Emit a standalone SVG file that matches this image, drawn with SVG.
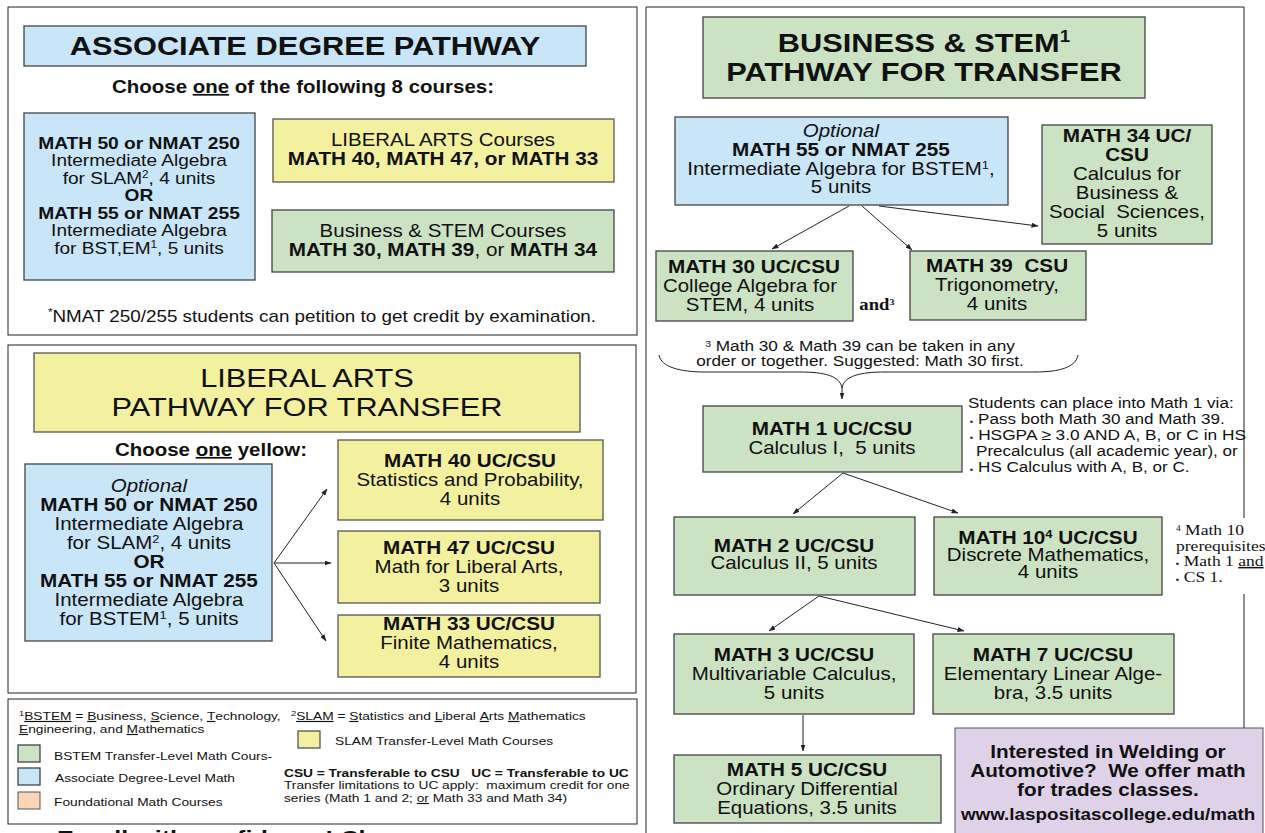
<svg xmlns="http://www.w3.org/2000/svg" width="1265" height="833" viewBox="0 0 1265 833">
<defs><marker id="a" markerWidth="7" markerHeight="5" refX="6.5" refY="2.5" orient="auto" markerUnits="userSpaceOnUse"><path d="M0 0L7 2.5L0 5Z" fill="#222"/></marker></defs>
<style>
text{font-family:"Liberation Sans",Arial,sans-serif;fill:#111;text-anchor:middle;transform-box:fill-box;transform-origin:50% 50%;transform:scaleX(1.17)}
.f{fill:#fff;stroke:#222;stroke-width:1}
.b{stroke:#444;stroke-width:1.3;fill:#c9e5f8}
.g{stroke:#444;stroke-width:1.3;fill:#cbe2c3}
.y{stroke:#555;stroke-width:1.3;fill:#f3f09f}
.o{stroke:#555;stroke-width:1;fill:#fbd5b5}
.p{stroke:#555;stroke-width:1;fill:#dfd2e8}
.t{font-size:17.5px}.n{font-weight:700;font-size:17.7px}
.t2{font-size:16.3px}.n2{font-weight:700;font-size:16.4px}
.h{font-size:26.3px}.hb{font-size:26.3px;font-weight:700}.q{font-size:17.5px;font-weight:700}
.s{font-size:14.6px;text-anchor:start;transform-origin:0 50%}.l{font-size:11.75px;text-anchor:start;transform-origin:0 50%}
.tm{font-family:"Liberation Serif",serif;font-size:15px;text-anchor:start;transform-origin:0 50%}
.c{fill:none;stroke:#222;stroke-width:1;marker-end:url(#a)}
.u{text-decoration:underline}
</style>
<rect width="1265" height="833" fill="#fff"/>
<g id="panels">
<rect class="f" x="8" y="7" width="629" height="328"/>
<rect class="f" x="8" y="345" width="628" height="348"/>
<rect class="f" x="8" y="699" width="629" height="125"/>
<path d="M646 833V7H1244V518M1244 594V730" fill="none" stroke="#222"/>
</g>
<g id="connectors">
<path class="c" d="M849 206L772 249"/>
<path class="c" d="M862 206L912 250"/>
<path class="c" d="M879 206L1038 226"/>
<path class="c" d="M843 473L793 514"/>
<path class="c" d="M843 473L958 513"/>
<path class="c" d="M819 596L769 631"/>
<path class="c" d="M819 596L964 631"/>
<path class="c" d="M803 715V751"/>
<path class="c" d="M274 563L327 489"/>
<path class="c" d="M274 563L331 563"/>
<path class="c" d="M274 563L326 641"/>
<path fill="none" stroke="#222" d="M659 355C661 367 680 372 705 372H800C825 372 840 376 842 388C844 376 860 372 885 372H1035C1060 372 1076 367 1078 355"/>
<path class="c" d="M842 388V399"/>
</g>
<g id="assoc-title"><rect class="b" x="24" y="26" width="562" height="40"/><text x="305" y="55" class="hb">ASSOCIATE DEGREE PATHWAY</text></g>
<text x="303" y="93" class="q">Choose <tspan class="u">one</tspan> of the following 8 courses:</text>
<g id="assoc-math"><rect class="b" x="24" y="113" width="231" height="167"/>
<text x="139" y="149" class="n2">MATH 50 or NMAT 250</text><text x="139" y="166" class="t2">Intermediate Algebra</text><text x="139" y="184" class="t2">for SLAM<tspan font-size="10" dy="-6">2</tspan><tspan dy="6">, 4 units</tspan></text><text x="139" y="201" class="n2">OR</text><text x="139" y="219" class="n2">MATH 55 or NMAT 255</text><text x="139" y="236" class="t2">Intermediate Algebra</text><text x="139" y="254" class="t2">for BST,EM<tspan font-size="10" dy="-6">1</tspan><tspan dy="6">, 5 units</tspan></text></g>
<g id="assoc-la"><rect class="y" x="273" y="119" width="341" height="63"/><text x="443" y="146" class="t">LIBERAL ARTS Courses</text><text x="443" y="165" class="n">MATH 40, MATH 47, or MATH 33</text></g>
<g id="assoc-bs"><rect class="g" x="272" y="210" width="342" height="62"/><text x="443" y="237" class="t">Business &amp; STEM Courses</text><text x="443" y="256" class="n">MATH 30, MATH 39<tspan font-weight="400">, or </tspan>MATH 34</text></g>
<text x="322" y="322" class="t2" style="font-size:16.1px"><tspan font-size="10" dy="-6">*</tspan><tspan dy="6">NMAT 250/255 students can petition to get credit by examination.</tspan></text>
<g id="la-title"><rect class="y" x="34" y="353" width="546" height="79"/><text x="307" y="387" class="h">LIBERAL ARTS</text><text x="307" y="416" class="h">PATHWAY FOR TRANSFER</text></g>
<text x="211" y="456" class="q">Choose <tspan class="u">one</tspan> yellow:</text>
<g id="la-opt"><rect class="b" x="25" y="464" width="247" height="177"/>
<text x="149" y="492" class="t" font-style="italic">Optional</text><text x="149" y="511" class="n">MATH 50 or NMAT 250</text><text x="149" y="530" class="t">Intermediate Algebra</text><text x="149" y="549" class="t">for SLAM<tspan font-size="11" dy="-6">2</tspan><tspan dy="6">, 4 units</tspan></text><text x="149" y="568" class="n">OR</text><text x="149" y="587" class="n">MATH 55 or NMAT 255</text><text x="149" y="606" class="t">Intermediate Algebra</text><text x="149" y="625" class="t">for BSTEM<tspan font-size="11" dy="-6">1</tspan><tspan dy="6">, 5 units</tspan></text></g>
<g id="m40"><rect class="y" x="338" y="440" width="265" height="80"/><text x="470" y="467" class="n">MATH 40 UC/CSU</text><text x="470" y="486" class="t">Statistics and Probability,</text><text x="470" y="505" class="t">4 units</text></g>
<g id="m47"><rect class="y" x="338" y="531" width="262" height="72"/><text x="469" y="554" class="n">MATH 47 UC/CSU</text><text x="469" y="573" class="t">Math for Liberal Arts,</text><text x="469" y="592" class="t">3 units</text></g>
<g id="m33"><rect class="y" x="338" y="615" width="262" height="62"/><text x="469" y="630" class="n">MATH 33 UC/CSU</text><text x="469" y="649" class="t">Finite Mathematics,</text><text x="469" y="668" class="t">4 units</text></g>
<g id="legend">
<text class="l" x="19" y="720"><tspan font-size="8" dy="-4">1</tspan><tspan dy="4" class="u">BSTEM</tspan> = <tspan class="u">B</tspan>usiness, <tspan class="u">S</tspan>cience, <tspan class="u">T</tspan>echnology,</text>
<text class="l" x="19" y="733"><tspan class="u">E</tspan>ngineering, and <tspan class="u">M</tspan>athematics</text>
<text class="l" x="291" y="720"><tspan font-size="8" dy="-4">2</tspan><tspan dy="4" class="u">SLAM</tspan> = <tspan class="u">S</tspan>tatistics and <tspan class="u">L</tspan>iberal <tspan class="u">A</tspan>rts <tspan class="u">M</tspan>athematics</text>
<rect class="y" x="298" y="731" width="22" height="17"/><text class="l" x="335" y="745">SLAM Transfer-Level Math Courses</text>
<rect class="g" x="18" y="745" width="22" height="17"/><text class="l" x="54" y="760">BSTEM Transfer-Level Math Cours-</text>
<rect class="b" x="18" y="768" width="22" height="17"/><text class="l" x="55" y="782">Associate Degree-Level Math</text>
<rect class="o" x="18" y="792" width="22" height="17"/><text class="l" x="54" y="806">Foundational Math Courses</text>
<text class="l" x="284" y="777" font-weight="700">CSU = Transferable to CSU &#160; UC = Transferable to UC</text>
<text class="l" x="284" y="789">Transfer limitations to UC apply: &#160;maximum credit for one</text>
<text class="l" x="284" y="802">series (Math 1 and 2; <tspan class="u">or</tspan> Math 33 and Math 34)</text>
</g>
<text x="57" y="846" font-size="21.5" font-weight="700" style="text-anchor:start;transform-origin:0 50%">Enroll with confidence! Cl</text>
<g id="bs-title"><rect class="g" x="703" y="17" width="442" height="81"/><text x="924" y="52" class="hb">BUSINESS &amp; STEM<tspan font-size="16" dy="-10">1</tspan></text><text x="924" y="81" class="hb">PATHWAY FOR TRANSFER</text></g>
<g id="opt"><rect class="b" x="675" y="117" width="333" height="88"/><text x="841" y="137" class="t" font-style="italic">Optional</text><text x="841" y="156" class="n">MATH 55 or NMAT 255</text><text x="841" y="175" class="t">Intermediate Algebra for BSTEM<tspan font-size="11" dy="-6">1</tspan><tspan dy="6">,</tspan></text><text x="841" y="193" class="t">5 units</text></g>
<g id="m34"><rect class="g" x="1042" y="125" width="170" height="119"/><text x="1127" y="142" class="n">MATH 34 UC/</text><text x="1127" y="161" class="n">CSU</text><text x="1127" y="180" class="t">Calculus for</text><text x="1127" y="199" class="t">Business &amp;</text><text x="1127" y="218" class="t">Social &#160;Sciences,</text><text x="1127" y="237" class="t">5 units</text></g>
<g id="m30"><rect class="g" x="656" y="251" width="197" height="70"/><text x="754" y="273" class="n">MATH 30 UC/CSU</text><text x="750" y="292" class="t">College Algebra for</text><text x="750" y="311" class="t">STEM, 4 units</text></g>
<text x="877" y="310" style="font-family:'Liberation Serif',serif;font-size:15.9px;font-weight:700">and<tspan font-size="9" dy="-5">3</tspan></text>
<g id="m39"><rect class="g" x="910" y="251" width="176" height="69"/><text x="997" y="272" class="n">MATH 39 &#160;CSU</text><text x="997" y="291" class="t">Trigonometry,</text><text x="997" y="310" class="t">4 units</text></g>
<text x="860" y="351" style="font-size:14.7px"><tspan font-size="9" dy="-4">3</tspan><tspan dy="4"> Math 30 &amp; Math 39 can be taken in any</tspan></text>
<text x="860" y="366" style="font-size:14.7px">order or together. Suggested: Math 30 first.</text>
<g id="m1"><rect class="g" x="703" y="406" width="259" height="66"/><text x="832" y="435" class="n">MATH 1 UC/CSU</text><text x="832" y="454" class="t">Calculus I, &#160;5 units</text></g>
<g id="note"><text class="s" x="968" y="408">Students can place into Math 1 via:</text><text class="s" x="970" y="424"><tspan font-size="8">▪</tspan> Pass both Math 30 and Math 39.</text><text class="s" x="970" y="440" style="font-size:14.8px"><tspan font-size="8">▪</tspan> HSGPA ≥ 3.0 AND A, B, or C in HS</text><text class="s" x="976" y="456">Precalculus (all academic year), or</text><text class="s" x="970" y="472"><tspan font-size="8">▪</tspan> HS Calculus with A, B, or C.</text></g>
<g id="m2"><rect class="g" x="674" y="517" width="241" height="78"/><text x="794" y="552" class="n">MATH 2 UC/CSU</text><text x="794" y="569" class="t">Calculus II, 5 units</text></g>
<g id="m10"><rect class="g" x="934" y="517" width="228" height="78"/><text x="1048" y="544" class="n">MATH 10<tspan font-size="11" dy="-6">4</tspan><tspan dy="6"> UC/CSU</tspan></text><text x="1048" y="561" class="t">Discrete Mathematics,</text><text x="1048" y="578" class="t">4 units</text></g>
<g id="note4"><text class="tm" x="1176" y="535"><tspan font-size="8" dy="-4">4</tspan><tspan dy="4"> Math 10</tspan></text><text class="tm" x="1176" y="551">prerequisites:</text><text class="tm" x="1176" y="566"><tspan font-size="8">▪</tspan> Math 1 <tspan class="u">and</tspan></text><text class="tm" x="1176" y="582"><tspan font-size="8">▪</tspan> CS 1.</text></g>
<g id="m3"><rect class="g" x="674" y="634" width="240" height="80"/><text x="794" y="661" class="n">MATH 3 UC/CSU</text><text x="794" y="680" class="t">Multivariable Calculus,</text><text x="794" y="699" class="t">5 units</text></g>
<g id="m7"><rect class="g" x="933" y="634" width="241" height="80"/><text x="1053" y="661" class="n">MATH 7 UC/CSU</text><text x="1053" y="680" class="t">Elementary Linear Alge-</text><text x="1053" y="699" class="t">bra, 3.5 units</text></g>
<g id="m5"><rect class="g" x="674" y="755" width="267" height="68"/><text x="807" y="776" class="n">MATH 5 UC/CSU</text><text x="807" y="795" class="t">Ordinary Differential</text><text x="807" y="814" class="t">Equations, 3.5 units</text></g>
<g id="trades"><rect class="p" x="955" y="728" width="308" height="110"/><text x="1108" y="758" class="n">Interested in Welding or</text><text x="1108" y="777" class="n">Automotive? &#160;We offer math</text><text x="1108" y="796" class="n">for trades classes.</text><text x="1108" y="820" style="font-size:16.1px;font-weight:700">www.laspositascollege.edu/math</text></g>
</svg>
